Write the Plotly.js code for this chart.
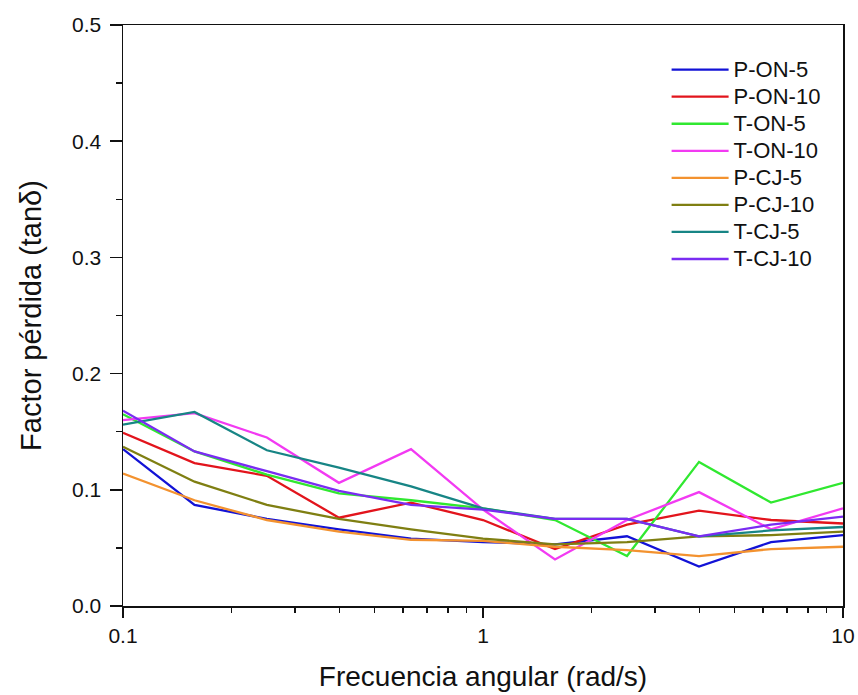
<!DOCTYPE html>
<html>
<head>
<meta charset="utf-8">
<script src="https://cdn.plot.ly/plotly-3.0.1.min.js"></script>
<style>
  html, body { margin: 0; padding: 0; background: #fff; }
  #chart { width: 858px; height: 695px; }
</style>
</head>
<body>
<div id="chart"></div>
<script>
// Angular frequency sweep (rad/s), five points per decade
const frequency = [0.1, 0.158, 0.251, 0.398, 0.631, 1, 1.585, 2.512, 3.981, 6.31, 10];

// Loss factor tan(delta) per sample
const pOn5  = [0.135, 0.087, 0.075, 0.066, 0.058, 0.055, 0.053, 0.060, 0.034, 0.055, 0.061];
const pOn10 = [0.149, 0.123, 0.112, 0.076, 0.089, 0.074, 0.049, 0.070, 0.082, 0.074, 0.071];
const tOn5  = [0.165, 0.133, 0.113, 0.097, 0.091, 0.084, 0.074, 0.043, 0.124, 0.089, 0.106];
const tOn10 = [0.160, 0.166, 0.145, 0.106, 0.135, 0.083, 0.040, 0.074, 0.098, 0.066, 0.084];
const pCj5  = [0.114, 0.091, 0.074, 0.064, 0.057, 0.056, 0.051, 0.048, 0.043, 0.049, 0.051];
const pCj10 = [0.137, 0.107, 0.087, 0.075, 0.066, 0.058, 0.053, 0.055, 0.060, 0.061, 0.064];
const tCj5  = [0.156, 0.167, 0.134, 0.119, 0.103, 0.084, 0.075, 0.075, 0.060, 0.065, 0.068];
const tCj10 = [0.168, 0.133, 0.116, 0.099, 0.087, 0.083, 0.075, 0.075, 0.060, 0.070, 0.077];

const seriesNames  = ['P-ON-5', 'P-ON-10', 'T-ON-5', 'T-ON-10', 'P-CJ-5', 'P-CJ-10', 'T-CJ-5', 'T-CJ-10'];
const seriesValues = [pOn5, pOn10, tOn5, tOn10, pCj5, pCj10, tCj5, tCj10];
const seriesColors = ['#1212d6', '#e2141c', '#30e830', '#f23af2', '#f3922f', '#7f7f12', '#178585', '#7a2cf2'];

// Legend labels are set a little larger than the row spacing font
const legendLabel = name => '<span style="font-size:22px">' + name + '</span>';

const traces = seriesNames.map((name, i) => ({
  type: 'scatter',
  mode: 'lines',
  name: legendLabel(name),
  x: frequency,
  y: seriesValues[i],
  line: { color: seriesColors[i], width: 2.3 }
}));

const fontFamily = '"Liberation Sans", Arial, sans-serif';

const layout = {
  width: 858,
  height: 695,
  margin: { l: 123, r: 15, t: 25, b: 89 },
  paper_bgcolor: '#ffffff',
  plot_bgcolor: '#ffffff',
  font: { family: fontFamily, color: '#111', size: 21 },
  showlegend: true,
  legend: {
    x: 0.755,
    y: 0.955,
    xanchor: 'left',
    yanchor: 'top',
    bgcolor: 'rgba(0,0,0,0)',
    borderwidth: 0,
    font: { family: fontFamily, size: 18.5, color: '#111' },
    itemwidth: 57
  },
  xaxis: {
    type: 'log',
    range: [-1, 1],
    tickvals: [0.1, 1, 10],
    ticktext: ['0.1', '1', '10'],
    ticks: 'outside',
    ticklen: 10,
    tickwidth: 1.5,
    tickcolor: '#111',
    minor: { ticks: 'outside', ticklen: 5, tickwidth: 1.5, tickcolor: '#111', dtick: 'D1', showgrid: false },
    showline: true,
    linecolor: '#111',
    linewidth: 1.5,
    mirror: true,
    showgrid: false,
    zeroline: false,
    tickfont: { size: 21 },
    title: { text: 'Frecuencia angular (rad/s)', font: { size: 28 }, standoff: 20 }
  },
  yaxis: {
    range: [0, 0.5],
    dtick: 0.1,
    tickformat: '.1f',
    ticks: 'outside',
    ticklen: 12,
    tickwidth: 1.5,
    tickcolor: '#111',
    minor: { ticks: 'outside', ticklen: 6, tickwidth: 1.5, tickcolor: '#111', dtick: 0.05, showgrid: false },
    showline: true,
    linecolor: '#111',
    linewidth: 1.5,
    mirror: true,
    showgrid: false,
    zeroline: false,
    ticklabelstandoff: 4,
    tickfont: { size: 21 },
    title: { text: 'Factor pérdida (tanδ)', font: { size: 29 }, standoff: 22 }
  }
};

Plotly.newPlot('chart', traces, layout, { displayModeBar: false, staticPlot: true });
</script>
</body>
</html>
